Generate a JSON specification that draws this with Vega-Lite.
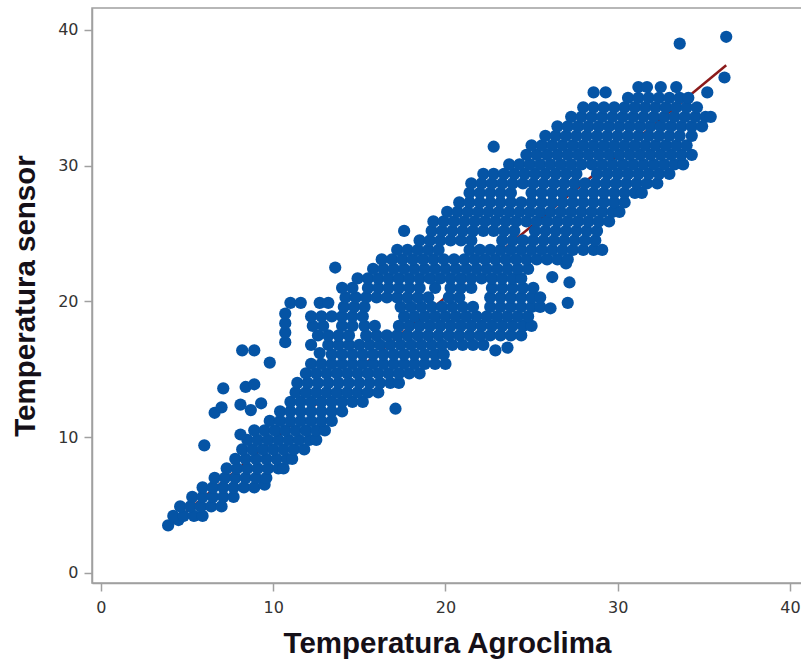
{
  "$schema": "https://vega.github.io/schema/vega-lite/v6.json",
  "autosize": {"type": "none"},
  "padding": {"left": 92, "top": 8, "right": 0, "bottom": 76},
  "width": 710,
  "height": 575,
  "background": "white",
  "config": {
    "view": {"stroke": "#a0a0a0", "strokeWidth": 1.5},
    "axis": {
      "grid": false,
      "domainColor": "#a0a0a0",
      "domainWidth": 1.5,
      "tickColor": "#a0a0a0",
      "tickWidth": 1.5,
      "tickSize": 8,
      "labelFont": "DejaVu Sans",
      "labelFontSize": 16,
      "labelColor": "#333333",
      "titleFont": "Liberation Sans",
      "titleFontSize": 29.5,
      "titleFontWeight": "bold",
      "titleColor": "#151018"
    }
  },
  "datasets": {
    "fit": [{"a": 3.8, "s": 3.3}, {"a": 36.3, "s": 37.4}],
    "obs": [
      {"a":3.9,"s":3.5},{"a":4.5,"s":3.9},
      {"a":4.2,"s":4.2},{"a":4.8,"s":4.2},{"a":5.4,"s":4.2},{"a":5.9,"s":4.2},
      {"a":4.6,"s":4.9},{"a":5.2,"s":4.9},{"a":5.8,"s":4.9},{"a":6.4,"s":4.9},{"a":7.0,"s":4.9},
      {"a":5.3,"s":5.6},{"a":5.9,"s":5.6},{"a":6.5,"s":5.6},{"a":7.1,"s":5.6},{"a":7.7,"s":5.6},
      {"a":5.9,"s":6.3},{"a":6.5,"s":6.3},{"a":7.1,"s":6.3},{"a":7.7,"s":6.3},{"a":8.3,"s":6.3},{"a":8.9,"s":6.3},{"a":9.5,"s":6.5},
      {"a":6.6,"s":7.0},{"a":7.2,"s":7.0},{"a":7.8,"s":7.0},{"a":8.4,"s":7.0},{"a":9.0,"s":7.0},{"a":9.6,"s":7.0},
      {"a":7.3,"s":7.7},{"a":7.9,"s":7.7},{"a":8.5,"s":7.7},{"a":9.1,"s":7.7},{"a":9.7,"s":7.7},{"a":10.3,"s":7.7},{"a":10.6,"s":7.7},
      {"a":7.8,"s":8.4},{"a":8.4,"s":8.4},{"a":9.0,"s":8.4},{"a":9.6,"s":8.4},{"a":10.2,"s":8.4},{"a":10.8,"s":8.4},{"a":11.1,"s":8.4},
      {"a":8.2,"s":9.1},{"a":8.8,"s":9.1},{"a":9.4,"s":9.1},{"a":10.0,"s":9.1},{"a":10.6,"s":9.1},{"a":11.2,"s":9.1},{"a":11.8,"s":9.1},
      {"a":8.5,"s":9.8},{"a":9.1,"s":9.8},{"a":9.7,"s":9.8},{"a":10.3,"s":9.8},{"a":10.9,"s":9.8},{"a":11.5,"s":9.8},{"a":12.1,"s":9.8},{"a":12.5,"s":9.8},
      {"a":8.9,"s":10.5},{"a":9.5,"s":10.5},{"a":10.1,"s":10.5},{"a":10.7,"s":10.5},{"a":11.3,"s":10.5},{"a":11.9,"s":10.5},{"a":12.5,"s":10.5},{"a":13.0,"s":10.5},
      {"a":9.8,"s":11.2},{"a":10.4,"s":11.2},{"a":11.0,"s":11.2},{"a":11.6,"s":11.2},{"a":12.2,"s":11.2},{"a":12.8,"s":11.2},{"a":13.4,"s":11.2},
      {"a":10.4,"s":11.9},{"a":11.0,"s":11.9},{"a":11.6,"s":11.9},{"a":12.2,"s":11.9},{"a":12.8,"s":11.9},{"a":13.4,"s":11.9},{"a":14.0,"s":11.9},
      {"a":11.0,"s":12.6},{"a":11.6,"s":12.6},{"a":12.2,"s":12.6},{"a":12.8,"s":12.6},{"a":13.4,"s":12.6},{"a":14.0,"s":12.6},{"a":14.6,"s":12.6},{"a":15.2,"s":12.6},
      {"a":11.3,"s":13.3},{"a":11.9,"s":13.3},{"a":12.5,"s":13.3},{"a":13.1,"s":13.3},{"a":13.7,"s":13.3},{"a":14.3,"s":13.3},{"a":14.9,"s":13.3},{"a":15.5,"s":13.3},{"a":16.1,"s":13.3},
      {"a":11.4,"s":14.0},{"a":12.0,"s":14.0},{"a":12.6,"s":14.0},{"a":13.2,"s":14.0},{"a":13.8,"s":14.0},{"a":14.4,"s":14.0},{"a":15.0,"s":14.0},{"a":15.6,"s":14.0},{"a":16.2,"s":14.0},{"a":16.8,"s":14.0},{"a":17.3,"s":14.0},
      {"a":11.9,"s":14.7},{"a":12.5,"s":14.7},{"a":13.1,"s":14.7},{"a":13.7,"s":14.7},{"a":14.3,"s":14.7},{"a":14.9,"s":14.7},{"a":15.5,"s":14.7},{"a":16.1,"s":14.7},{"a":16.7,"s":14.7},{"a":17.3,"s":14.7},{"a":17.9,"s":14.7},{"a":18.5,"s":14.7},
      {"a":12.2,"s":15.4},{"a":12.8,"s":15.4},{"a":13.4,"s":15.4},{"a":14.0,"s":15.4},{"a":14.6,"s":15.4},{"a":15.2,"s":15.4},{"a":15.8,"s":15.4},{"a":16.4,"s":15.4},{"a":17.0,"s":15.4},{"a":17.6,"s":15.4},{"a":18.2,"s":15.4},{"a":18.8,"s":15.4},{"a":19.4,"s":15.4},{"a":20.0,"s":15.4},
      {"a":13.4,"s":16.1},{"a":14.0,"s":16.1},{"a":14.6,"s":16.1},{"a":15.2,"s":16.1},{"a":15.8,"s":16.1},{"a":16.4,"s":16.1},{"a":17.0,"s":16.1},{"a":17.6,"s":16.1},{"a":18.2,"s":16.1},{"a":18.8,"s":16.1},{"a":19.4,"s":16.1},{"a":19.9,"s":16.1},
      {"a":12.2,"s":16.8},{"a":13.2,"s":16.8},{"a":13.8,"s":16.8},{"a":14.4,"s":16.8},{"a":15.0,"s":16.8},{"a":15.6,"s":16.8},{"a":16.2,"s":16.8},{"a":16.8,"s":16.8},{"a":17.4,"s":16.8},{"a":18.0,"s":16.8},{"a":18.6,"s":16.8},{"a":19.2,"s":16.8},{"a":19.8,"s":16.8},{"a":20.4,"s":16.8},{"a":21.0,"s":16.8},{"a":21.6,"s":16.8},{"a":22.2,"s":16.8},
      {"a":12.6,"s":17.5},{"a":13.2,"s":17.5},{"a":13.8,"s":17.5},{"a":14.4,"s":17.5},{"a":15.4,"s":17.5},{"a":16.0,"s":17.5},{"a":16.6,"s":17.5},{"a":17.2,"s":17.5},{"a":17.8,"s":17.5},{"a":18.4,"s":17.5},{"a":19.0,"s":17.5},{"a":19.6,"s":17.5},{"a":20.2,"s":17.5},{"a":20.8,"s":17.5},{"a":21.4,"s":17.5},{"a":22.0,"s":17.5},{"a":22.6,"s":17.5},{"a":23.2,"s":17.5},{"a":23.8,"s":17.5},{"a":24.4,"s":17.5},
      {"a":12.3,"s":18.2},{"a":12.9,"s":18.2},{"a":14.0,"s":18.2},{"a":14.6,"s":18.2},{"a":15.3,"s":18.2},{"a":15.9,"s":18.2},{"a":17.3,"s":18.2},{"a":17.9,"s":18.2},{"a":18.5,"s":18.2},{"a":19.1,"s":18.2},{"a":19.7,"s":18.2},{"a":20.3,"s":18.2},{"a":20.9,"s":18.2},{"a":21.5,"s":18.2},{"a":22.1,"s":18.2},{"a":22.7,"s":18.2},{"a":23.3,"s":18.2},{"a":23.9,"s":18.2},{"a":24.5,"s":18.2},{"a":25.0,"s":18.2},
      {"a":12.2,"s":18.9},{"a":12.8,"s":18.9},{"a":13.4,"s":18.9},{"a":14.0,"s":18.9},{"a":14.6,"s":18.9},{"a":15.2,"s":18.9},{"a":17.6,"s":18.9},{"a":18.2,"s":18.9},{"a":18.8,"s":18.9},{"a":19.4,"s":18.9},{"a":20.0,"s":18.9},{"a":20.6,"s":18.9},{"a":21.2,"s":18.9},{"a":21.8,"s":18.9},{"a":22.4,"s":18.9},{"a":23.0,"s":18.9},{"a":23.6,"s":18.9},{"a":24.2,"s":18.9},{"a":24.8,"s":18.9},
      {"a":14.1,"s":19.6},{"a":14.7,"s":19.6},{"a":15.3,"s":19.6},{"a":17.4,"s":19.6},{"a":18.0,"s":19.6},{"a":18.6,"s":19.6},{"a":19.2,"s":19.6},{"a":19.8,"s":19.6},{"a":20.4,"s":19.6},{"a":21.0,"s":19.6},{"a":21.6,"s":19.6},{"a":22.6,"s":19.6},{"a":23.2,"s":19.6},{"a":23.8,"s":19.6},{"a":24.4,"s":19.6},{"a":25.0,"s":19.6},{"a":25.5,"s":19.6},{"a":26.1,"s":19.5},{"a":27.1,"s":19.9},
      {"a":10.7,"s":17.0},{"a":10.7,"s":17.7},{"a":10.7,"s":18.4},{"a":10.7,"s":19.1},{"a":11.0,"s":19.9},{"a":11.6,"s":19.9},{"a":12.7,"s":19.9},{"a":13.2,"s":19.9},
      {"a":14.2,"s":20.3},{"a":14.8,"s":20.3},{"a":15.4,"s":20.3},{"a":16.0,"s":20.3},{"a":16.6,"s":20.3},{"a":17.2,"s":20.3},{"a":17.8,"s":20.3},{"a":18.4,"s":20.3},{"a":19.0,"s":20.3},{"a":20.2,"s":20.3},{"a":20.8,"s":20.3},{"a":22.6,"s":20.3},{"a":23.2,"s":20.3},{"a":23.8,"s":20.3},{"a":24.4,"s":20.3},{"a":25.0,"s":20.3},{"a":25.5,"s":20.3},
      {"a":14.0,"s":21.0},{"a":14.6,"s":21.0},{"a":15.5,"s":21.0},{"a":16.1,"s":21.0},{"a":16.7,"s":21.0},{"a":17.3,"s":21.0},{"a":17.9,"s":21.0},{"a":18.5,"s":21.0},{"a":19.4,"s":21.0},{"a":20.3,"s":21.0},{"a":20.9,"s":21.0},{"a":21.5,"s":21.0},{"a":22.7,"s":21.0},{"a":23.3,"s":21.0},{"a":23.9,"s":21.0},{"a":24.5,"s":21.0},{"a":25.1,"s":21.0},
      {"a":14.9,"s":21.7},{"a":15.5,"s":21.7},{"a":16.1,"s":21.7},{"a":16.7,"s":21.7},{"a":17.3,"s":21.7},{"a":17.9,"s":21.7},{"a":18.5,"s":21.7},{"a":19.1,"s":21.7},{"a":19.7,"s":21.7},{"a":20.3,"s":21.7},{"a":20.9,"s":21.7},{"a":21.5,"s":21.7},{"a":22.1,"s":21.7},{"a":22.7,"s":21.7},{"a":23.3,"s":21.7},{"a":23.9,"s":21.7},{"a":24.4,"s":21.7},{"a":26.2,"s":21.8},{"a":27.2,"s":21.4},
      {"a":13.6,"s":22.5},{"a":15.8,"s":22.4},{"a":16.4,"s":22.4},{"a":17.0,"s":22.4},{"a":17.6,"s":22.4},{"a":18.2,"s":22.4},{"a":18.8,"s":22.4},{"a":19.4,"s":22.4},{"a":20.0,"s":22.4},{"a":20.6,"s":22.4},{"a":21.2,"s":22.4},{"a":21.8,"s":22.4},{"a":22.4,"s":22.4},{"a":23.0,"s":22.4},{"a":23.6,"s":22.4},{"a":24.2,"s":22.4},{"a":24.8,"s":22.4},{"a":27.0,"s":22.8},
      {"a":16.3,"s":23.1},{"a":16.9,"s":23.1},{"a":17.5,"s":23.1},{"a":18.1,"s":23.1},{"a":18.7,"s":23.1},{"a":19.3,"s":23.1},{"a":19.9,"s":23.1},{"a":20.5,"s":23.1},{"a":21.1,"s":23.1},{"a":21.7,"s":23.1},{"a":22.3,"s":23.1},{"a":22.9,"s":23.1},{"a":23.5,"s":23.1},{"a":24.1,"s":23.1},{"a":24.7,"s":23.1},{"a":25.3,"s":23.1},{"a":25.9,"s":23.1},{"a":26.5,"s":23.1},{"a":27.1,"s":23.1},
      {"a":17.2,"s":23.8},{"a":17.8,"s":23.8},{"a":18.4,"s":23.8},{"a":19.0,"s":23.8},{"a":19.6,"s":23.8},{"a":21.4,"s":23.8},{"a":22.0,"s":23.8},{"a":22.6,"s":23.8},{"a":23.2,"s":23.8},{"a":23.8,"s":23.8},{"a":24.4,"s":23.8},{"a":25.0,"s":23.8},{"a":25.6,"s":23.8},{"a":26.2,"s":23.8},{"a":26.8,"s":23.8},{"a":27.4,"s":23.8},{"a":28.0,"s":23.8},{"a":28.6,"s":23.8},{"a":29.1,"s":23.8},
      {"a":18.5,"s":24.5},{"a":19.1,"s":24.5},{"a":19.7,"s":24.5},{"a":20.3,"s":24.5},{"a":20.9,"s":24.5},{"a":21.5,"s":24.5},{"a":23.3,"s":24.5},{"a":23.9,"s":24.5},{"a":24.5,"s":24.5},{"a":25.1,"s":24.5},{"a":25.7,"s":24.5},{"a":26.3,"s":24.5},{"a":26.9,"s":24.5},{"a":27.5,"s":24.5},{"a":28.1,"s":24.5},{"a":28.7,"s":24.5},
      {"a":17.6,"s":25.2},{"a":19.2,"s":25.2},{"a":19.8,"s":25.2},{"a":20.4,"s":25.2},{"a":21.0,"s":25.2},{"a":21.6,"s":25.2},{"a":22.2,"s":25.2},{"a":22.8,"s":25.2},{"a":23.4,"s":25.2},{"a":24.0,"s":25.2},{"a":25.2,"s":25.2},{"a":25.8,"s":25.2},{"a":26.4,"s":25.2},{"a":27.0,"s":25.2},{"a":27.6,"s":25.2},{"a":28.2,"s":25.2},{"a":28.8,"s":25.2},
      {"a":19.3,"s":25.9},{"a":19.9,"s":25.9},{"a":20.5,"s":25.9},{"a":21.1,"s":25.9},{"a":21.7,"s":25.9},{"a":22.3,"s":25.9},{"a":22.9,"s":25.9},{"a":23.5,"s":25.9},{"a":24.1,"s":25.9},{"a":24.7,"s":25.9},{"a":25.3,"s":25.9},{"a":25.9,"s":25.9},{"a":26.5,"s":25.9},{"a":27.1,"s":25.9},{"a":27.7,"s":25.9},{"a":28.3,"s":25.9},{"a":28.9,"s":25.9},{"a":29.5,"s":25.9},
      {"a":20.1,"s":26.6},{"a":20.7,"s":26.6},{"a":21.3,"s":26.6},{"a":21.9,"s":26.6},{"a":22.5,"s":26.6},{"a":23.1,"s":26.6},{"a":23.7,"s":26.6},{"a":24.3,"s":26.6},{"a":24.9,"s":26.6},{"a":25.5,"s":26.6},{"a":26.1,"s":26.6},{"a":26.7,"s":26.6},{"a":27.3,"s":26.6},{"a":27.9,"s":26.6},{"a":28.5,"s":26.6},{"a":29.1,"s":26.6},{"a":29.7,"s":26.6},{"a":30.1,"s":26.6},
      {"a":20.8,"s":27.3},{"a":21.4,"s":27.3},{"a":22.0,"s":27.3},{"a":22.6,"s":27.3},{"a":23.2,"s":27.3},{"a":23.8,"s":27.3},{"a":24.4,"s":27.3},{"a":25.0,"s":27.3},{"a":25.6,"s":27.3},{"a":26.2,"s":27.3},{"a":26.8,"s":27.3},{"a":27.4,"s":27.3},{"a":28.0,"s":27.3},{"a":28.6,"s":27.3},{"a":29.2,"s":27.3},{"a":29.8,"s":27.3},{"a":30.4,"s":27.3},
      {"a":21.4,"s":28.0},{"a":22.0,"s":28.0},{"a":22.6,"s":28.0},{"a":23.2,"s":28.0},{"a":23.8,"s":28.0},{"a":25.0,"s":28.0},{"a":25.6,"s":28.0},{"a":26.2,"s":28.0},{"a":26.8,"s":28.0},{"a":27.4,"s":28.0},{"a":28.0,"s":28.0},{"a":28.6,"s":28.0},{"a":29.2,"s":28.0},{"a":29.8,"s":28.0},{"a":30.4,"s":28.0},{"a":31.0,"s":28.0},{"a":31.4,"s":28.0},
      {"a":21.5,"s":28.7},{"a":22.1,"s":28.7},{"a":22.7,"s":28.7},{"a":23.3,"s":28.7},{"a":23.9,"s":28.7},{"a":24.5,"s":28.7},{"a":25.1,"s":28.7},{"a":25.7,"s":28.7},{"a":26.3,"s":28.7},{"a":26.9,"s":28.7},{"a":27.5,"s":28.7},{"a":28.1,"s":28.7},{"a":28.7,"s":28.7},{"a":29.3,"s":28.7},{"a":29.9,"s":28.7},{"a":30.5,"s":28.7},{"a":31.1,"s":28.7},{"a":31.7,"s":28.7},{"a":32.3,"s":28.7},
      {"a":22.2,"s":29.4},{"a":22.8,"s":29.4},{"a":23.4,"s":29.4},{"a":24.0,"s":29.4},{"a":24.6,"s":29.4},{"a":25.2,"s":29.4},{"a":25.8,"s":29.4},{"a":26.4,"s":29.4},{"a":27.0,"s":29.4},{"a":27.6,"s":29.4},{"a":28.8,"s":29.4},{"a":29.4,"s":29.4},{"a":30.0,"s":29.4},{"a":30.6,"s":29.4},{"a":31.2,"s":29.4},{"a":31.8,"s":29.4},{"a":32.4,"s":29.4},{"a":33.0,"s":29.4},
      {"a":23.7,"s":30.1},{"a":24.3,"s":30.1},{"a":24.9,"s":30.1},{"a":25.5,"s":30.1},{"a":26.1,"s":30.1},{"a":26.7,"s":30.1},{"a":27.3,"s":30.1},{"a":27.9,"s":30.1},{"a":28.5,"s":30.1},{"a":29.1,"s":30.1},{"a":29.7,"s":30.1},{"a":30.3,"s":30.1},{"a":30.9,"s":30.1},{"a":31.5,"s":30.1},{"a":32.1,"s":30.1},{"a":32.7,"s":30.1},{"a":33.3,"s":30.1},{"a":33.8,"s":30.1},
      {"a":24.7,"s":30.8},{"a":25.3,"s":30.8},{"a":25.9,"s":30.8},{"a":26.5,"s":30.8},{"a":27.1,"s":30.8},{"a":27.7,"s":30.8},{"a":28.3,"s":30.8},{"a":28.9,"s":30.8},{"a":29.5,"s":30.8},{"a":30.1,"s":30.8},{"a":30.7,"s":30.8},{"a":31.3,"s":30.8},{"a":31.9,"s":30.8},{"a":32.5,"s":30.8},{"a":33.1,"s":30.8},{"a":33.7,"s":30.8},{"a":34.3,"s":30.8},
      {"a":22.8,"s":31.4},
      {"a":25.0,"s":31.5},{"a":25.6,"s":31.5},{"a":26.2,"s":31.5},{"a":26.8,"s":31.5},{"a":27.4,"s":31.5},{"a":28.0,"s":31.5},{"a":28.6,"s":31.5},{"a":29.2,"s":31.5},{"a":29.8,"s":31.5},{"a":30.4,"s":31.5},{"a":31.0,"s":31.5},{"a":31.6,"s":31.5},{"a":32.2,"s":31.5},{"a":32.8,"s":31.5},{"a":33.4,"s":31.5},{"a":34.0,"s":31.5},
      {"a":25.8,"s":32.2},{"a":26.4,"s":32.2},{"a":27.0,"s":32.2},{"a":27.6,"s":32.2},{"a":28.2,"s":32.2},{"a":28.8,"s":32.2},{"a":29.4,"s":32.2},{"a":30.0,"s":32.2},{"a":30.6,"s":32.2},{"a":31.2,"s":32.2},{"a":31.8,"s":32.2},{"a":32.4,"s":32.2},{"a":33.0,"s":32.2},{"a":33.6,"s":32.2},{"a":34.3,"s":32.2},
      {"a":26.5,"s":32.9},{"a":27.1,"s":32.9},{"a":27.7,"s":32.9},{"a":28.3,"s":32.9},{"a":28.9,"s":32.9},{"a":29.5,"s":32.9},{"a":30.1,"s":32.9},{"a":30.7,"s":32.9},{"a":31.3,"s":32.9},{"a":31.9,"s":32.9},{"a":32.5,"s":32.9},{"a":33.1,"s":32.9},{"a":33.7,"s":32.9},{"a":34.3,"s":32.9},{"a":34.9,"s":32.9},
      {"a":27.3,"s":33.6},{"a":27.9,"s":33.6},{"a":28.5,"s":33.6},{"a":29.1,"s":33.6},{"a":29.7,"s":33.6},{"a":30.3,"s":33.6},{"a":30.9,"s":33.6},{"a":31.5,"s":33.6},{"a":32.1,"s":33.6},{"a":32.7,"s":33.6},{"a":33.3,"s":33.6},{"a":33.9,"s":33.6},{"a":34.5,"s":33.6},{"a":35.1,"s":33.6},{"a":35.4,"s":33.6},
      {"a":28.0,"s":34.3},{"a":28.6,"s":34.3},{"a":29.2,"s":34.3},{"a":29.8,"s":34.3},{"a":30.4,"s":34.3},{"a":31.0,"s":34.3},{"a":31.6,"s":34.3},{"a":32.2,"s":34.3},{"a":32.8,"s":34.3},{"a":33.4,"s":34.3},{"a":34.0,"s":34.3},{"a":34.6,"s":34.3},
      {"a":30.6,"s":35.0},{"a":31.2,"s":35.0},{"a":31.8,"s":35.0},{"a":32.4,"s":35.0},{"a":33.0,"s":35.0},{"a":33.6,"s":35.0},{"a":34.1,"s":35.0},
      {"a":28.6,"s":35.4},{"a":29.3,"s":35.4},{"a":35.2,"s":35.4},
      {"a":31.2,"s":35.8},{"a":31.7,"s":35.8},{"a":32.5,"s":35.8},{"a":33.4,"s":35.8},
      {"a":36.2,"s":36.5},{"a":33.6,"s":39.0},{"a":36.3,"s":39.5},
      {"a":6.0,"s":9.4},{"a":8.1,"s":10.2},{"a":6.6,"s":11.8},{"a":7.0,"s":12.2},{"a":8.1,"s":12.4},{"a":8.7,"s":12.0},{"a":9.3,"s":12.5},
      {"a":7.1,"s":13.6},{"a":8.4,"s":13.7},{"a":8.9,"s":13.9},{"a":9.8,"s":15.5},{"a":8.2,"s":16.4},{"a":8.9,"s":16.4},
      {"a":17.1,"s":12.1},{"a":12.7,"s":16.2},{"a":22.9,"s":16.4},{"a":23.6,"s":16.6}
    ]
  },
  "layer": [
    {
      "data": {"name": "fit"},
      "mark": {"type": "line", "color": "#8b1a1a", "strokeWidth": 2.5},
      "encoding": {
        "x": {"field": "a", "type": "quantitative", "scale": {"domain": [-0.52, 40.7], "nice": false, "zero": false}},
        "y": {"field": "s", "type": "quantitative", "scale": {"domain": [-0.74, 41.62], "nice": false, "zero": false}}
      }
    },
    {
      "data": {"name": "obs"},
      "mark": {"type": "circle", "size": 150, "color": "#0554a5", "opacity": 1},
      "encoding": {
        "x": {
          "field": "a", "type": "quantitative",
          "scale": {"domain": [-0.52, 40.7], "nice": false, "zero": false},
          "axis": {"values": [0, 10, 20, 30, 40], "title": "Temperatura Agroclima", "labelPadding": 8, "titlePadding": 14}
        },
        "y": {
          "field": "s", "type": "quantitative",
          "scale": {"domain": [-0.74, 41.62], "nice": false, "zero": false},
          "axis": {"values": [0, 10, 20, 30, 40], "title": "Temperatura sensor", "labelPadding": 6, "titlePadding": 17}
        }
      }
    }
  ]
}
